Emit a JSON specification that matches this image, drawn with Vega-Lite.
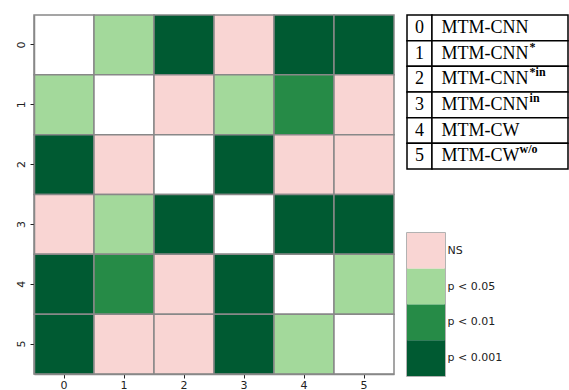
{
  "$schema": "https://vega.github.io/schema/vega-lite/v6.json",
  "padding": {"left": 14, "top": 14, "right": 0, "bottom": 3},
  "background": "white",
  "config": {"view": {"stroke": null}, "concat": {"spacing": 11}},
  "datasets": {
    "cells": [
      {"row": 0, "col": 0, "sig": "diag"}, {"row": 0, "col": 1, "sig": "p < 0.05"}, {"row": 0, "col": 2, "sig": "p < 0.001"}, {"row": 0, "col": 3, "sig": "NS"}, {"row": 0, "col": 4, "sig": "p < 0.001"}, {"row": 0, "col": 5, "sig": "p < 0.001"},
      {"row": 1, "col": 0, "sig": "p < 0.05"}, {"row": 1, "col": 1, "sig": "diag"}, {"row": 1, "col": 2, "sig": "NS"}, {"row": 1, "col": 3, "sig": "p < 0.05"}, {"row": 1, "col": 4, "sig": "p < 0.01"}, {"row": 1, "col": 5, "sig": "NS"},
      {"row": 2, "col": 0, "sig": "p < 0.001"}, {"row": 2, "col": 1, "sig": "NS"}, {"row": 2, "col": 2, "sig": "diag"}, {"row": 2, "col": 3, "sig": "p < 0.001"}, {"row": 2, "col": 4, "sig": "NS"}, {"row": 2, "col": 5, "sig": "NS"},
      {"row": 3, "col": 0, "sig": "NS"}, {"row": 3, "col": 1, "sig": "p < 0.05"}, {"row": 3, "col": 2, "sig": "p < 0.001"}, {"row": 3, "col": 3, "sig": "diag"}, {"row": 3, "col": 4, "sig": "p < 0.001"}, {"row": 3, "col": 5, "sig": "p < 0.001"},
      {"row": 4, "col": 0, "sig": "p < 0.001"}, {"row": 4, "col": 1, "sig": "p < 0.01"}, {"row": 4, "col": 2, "sig": "NS"}, {"row": 4, "col": 3, "sig": "p < 0.001"}, {"row": 4, "col": 4, "sig": "diag"}, {"row": 4, "col": 5, "sig": "p < 0.05"},
      {"row": 5, "col": 0, "sig": "p < 0.001"}, {"row": 5, "col": 1, "sig": "NS"}, {"row": 5, "col": 2, "sig": "NS"}, {"row": 5, "col": 3, "sig": "p < 0.001"}, {"row": 5, "col": 4, "sig": "p < 0.05"}, {"row": 5, "col": 5, "sig": "diag"}
    ],
    "models": [
      {"id": 0, "base": "MTM-CNN", "sup": ""},
      {"id": 1, "base": "MTM-CNN", "sup": "*"},
      {"id": 2, "base": "MTM-CNN", "sup": "*in"},
      {"id": 3, "base": "MTM-CNN", "sup": "in"},
      {"id": 4, "base": "MTM-CW", "sup": ""},
      {"id": 5, "base": "MTM-CW", "sup": "w/o"}
    ],
    "legend": [
      {"label": "NS"}, {"label": "p < 0.05"}, {"label": "p < 0.01"}, {"label": "p < 0.001"}
    ]
  },
  "hconcat": [
    {
      "width": 360,
      "height": 359,
      "data": {"name": "cells"},
      "mark": {"type": "rect", "stroke": "#888888", "strokeWidth": 1.5},
      "encoding": {
        "x": {"field": "col", "type": "ordinal", "scale": {"paddingInner": 0},
          "axis": {"title": null, "labelAngle": 0, "labelFont": "DejaVu Sans", "labelFontSize": 11, "labelColor": "#222", "tickColor": "#222", "tickSize": 4, "labelPadding": 1, "domainColor": "#888", "domainWidth": 1.5}},
        "y": {"field": "row", "type": "ordinal", "scale": {"paddingInner": 0},
          "axis": {"title": null, "labelAngle": -90, "labelAlign": "center", "labelBaseline": "bottom", "labelFont": "DejaVu Sans", "labelFontSize": 11, "labelColor": "#222", "tickColor": "#222", "tickSize": 4, "labelPadding": 4, "domainColor": "#888", "domainWidth": 1.5}},
        "color": {"field": "sig", "type": "nominal", "legend": null,
          "scale": {"domain": ["diag", "NS", "p < 0.05", "p < 0.01", "p < 0.001"], "range": ["#ffffff", "#f9d5d3", "#a3d99b", "#268b47", "#005a32"]}}
      }
    },
    {
      "vconcat": [
        {
          "width": 161,
          "height": 154,
          "data": {"name": "models"},
          "encoding": {
            "y": {"field": "id", "type": "ordinal", "scale": {"paddingInner": 0, "paddingOuter": 0}, "axis": null}
          },
          "layer": [
            {
              "mark": {"type": "rect", "fill": "white", "stroke": "black", "strokeWidth": 1.5},
              "encoding": {
                "x": {"datum": 0, "type": "quantitative", "scale": {"domain": [0, 1]}, "axis": null},
                "x2": {"datum": 0.155}
              }
            },
            {
              "mark": {"type": "rect", "fill": "white", "stroke": "black", "strokeWidth": 1.5},
              "encoding": {
                "x": {"datum": 0.155, "type": "quantitative"},
                "x2": {"datum": 1}
              }
            },
            {
              "mark": {"type": "text", "font": "Liberation Serif", "fontSize": 18, "align": "center", "baseline": "middle", "color": "black"},
              "encoding": {
                "x": {"datum": 0.078, "type": "quantitative"},
                "text": {"field": "id"}
              }
            },
            {
              "mark": {"type": "text", "font": "Liberation Serif", "fontSize": 18, "align": "left", "baseline": "middle", "color": "black"},
              "encoding": {
                "x": {"datum": 0.215, "type": "quantitative"},
                "text": {"field": "base"}
              }
            },
            {
              "transform": [{"filter": "datum.base == 'MTM-CNN'"}],
              "mark": {"type": "text", "font": "Liberation Serif", "fontSize": 12, "fontWeight": "bold", "align": "left", "baseline": "middle", "dx": 88, "dy": -7, "color": "black"},
              "encoding": {
                "x": {"datum": 0.215, "type": "quantitative"},
                "text": {"field": "sup"}
              }
            },
            {
              "transform": [{"filter": "datum.base == 'MTM-CW'"}],
              "mark": {"type": "text", "font": "Liberation Serif", "fontSize": 12, "fontWeight": "bold", "align": "left", "baseline": "middle", "dx": 78, "dy": -7, "color": "black"},
              "encoding": {
                "x": {"datum": 0.215, "type": "quantitative"},
                "text": {"field": "sup"}
              }
            }
          ]
        },
        {
          "width": 38,
          "height": 143,
          "data": {"name": "legend"},
          "view": {"stroke": "#999999", "strokeWidth": 1.5},
          "mark": {"type": "rect"},
          "encoding": {
            "y": {"field": "label", "type": "nominal", "sort": null, "scale": {"paddingInner": 0, "paddingOuter": 0},
              "axis": {"orient": "right", "title": null, "ticks": false, "domain": false, "labelPadding": 2, "labelFont": "DejaVu Sans", "labelFontSize": 11, "labelColor": "#222"}},
            "x": {"datum": 0, "type": "quantitative", "scale": {"domain": [0, 1]}, "axis": null},
            "x2": {"datum": 1},
            "color": {"field": "label", "type": "nominal", "legend": null,
              "scale": {"domain": ["NS", "p < 0.05", "p < 0.01", "p < 0.001"], "range": ["#f9d5d3", "#a3d99b", "#268b47", "#005a32"]}}
          }
        }
      ],
      "spacing": 62
    }
  ]
}
